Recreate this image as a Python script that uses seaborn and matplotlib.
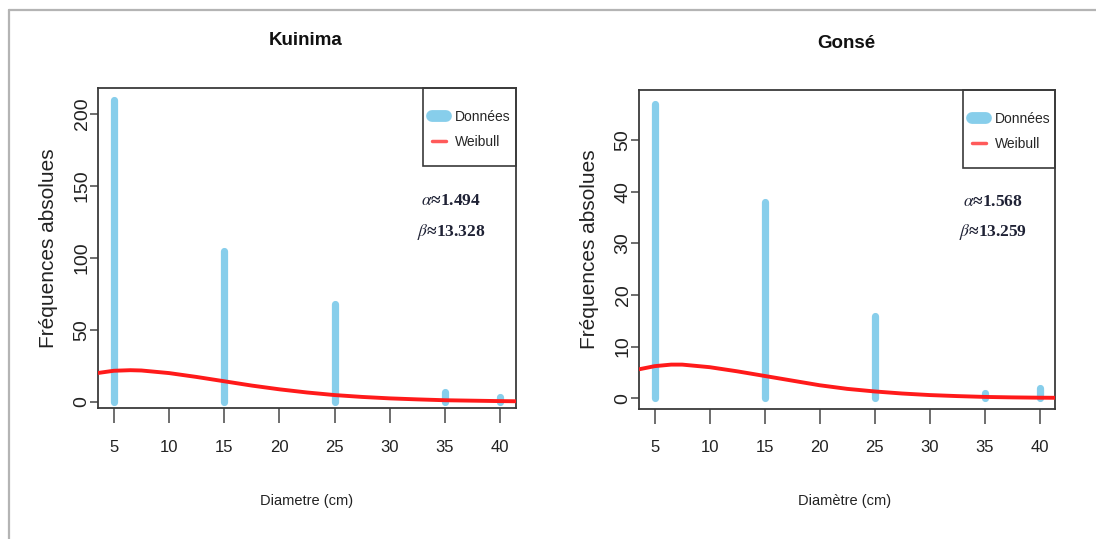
import matplotlib
matplotlib.use("Agg")
import matplotlib.pyplot as plt
from matplotlib import font_manager
from matplotlib.lines import Line2D
from matplotlib.patches import Rectangle
import pandas as pd
import seaborn as sns

# values
diam = [5, 15, 25, 35, 40]
kuinima_freq = [210, 105, 68, 7, 3]
gonse_freq = [57, 38, 16, 1, 2]

curve_x = [3.6, 5, 6.5, 7.5, 10, 12.5, 15, 17.5, 20, 22.5, 25, 27.5,
           30, 32.5, 35, 37.5, 40, 41.4]
kuinima_weibull = [20.0, 21.5, 21.9, 21.7, 19.9, 17.2, 14.2, 11.2, 8.6, 6.4,
                   4.6, 3.3, 2.3, 1.6, 1.0, 0.7, 0.4, 0.3]
gonse_weibull = [5.6, 6.2, 6.5, 6.5, 6.0, 5.2, 4.3, 3.4, 2.5, 1.8,
                 1.3, 0.9, 0.6, 0.4, 0.24, 0.15, 0.09, 0.07]

x_ticks = [5, 10, 15, 20, 25, 30, 35, 40]
kuinima_yticks = [0, 50, 100, 150, 200]
gonse_yticks = [0, 10, 20, 30, 40, 50]

sns.set_style("ticks")
names = {f.name for f in font_manager.fontManager.ttflist}
narrow = "Liberation Sans Narrow" if "Liberation Sans Narrow" in names else "Liberation Sans"
plt.rcParams["font.family"] = ["Liberation Sans", "DejaVu Sans"]
plt.rcParams["mathtext.fontset"] = "stix"

BLUE = "#87ceeb"
RED = "#ff1a1a"
INK = "#222222"

panels = [
    dict(title="Kuinima", xlabel="Diametre (cm)", freq=kuinima_freq,
         curve=kuinima_weibull, yticks=kuinima_yticks, ylim=(-4.6, 218),
         alpha="1.494", beta="13.328",
         pos=[0.0897, 0.2425, 0.3808, 0.5937],
         title_xy=(0.279, 0.9165), xlabel_xy=(0.2798, 0.0711), ylabel_xy=(0.0447, 0.540),
         ab_xy=(0.8445, 0.648, 0.55)),
    dict(title="Gonsé", xlabel="Diamètre (cm)", freq=gonse_freq,
         curve=gonse_weibull, yticks=gonse_yticks, ylim=(-2.1, 59.7),
         alpha="1.568", beta="13.259",
         pos=[0.5833, 0.2412, 0.3793, 0.5918],
         title_xy=(0.7725, 0.911), xlabel_xy=(0.771, 0.0711), ylabel_xy=(0.5383, 0.537),
         ab_xy=(0.8497, 0.65, 0.554)),
]

fig = plt.figure(figsize=(10.96, 5.39), dpi=100)
fig.patch.set_facecolor("white")

# light grey frame around the picture
fig.add_artist(Line2D([0.008, 1.0], [0.9814, 0.9814], transform=fig.transFigure,
                      color="#b4b4b4", lw=1.6))
fig.add_artist(Line2D([0.008, 0.008], [0.0, 0.9814], transform=fig.transFigure,
                      color="#b4b4b4", lw=1.6))

for p in panels:
    ax = fig.add_axes(p["pos"])
    df = pd.DataFrame({"x": curve_x, "y": p["curve"]})

    bars = ax.vlines(diam, 0, p["freq"], colors=BLUE, linewidth=5.2, zorder=2)
    bars.set_capstyle("round")
    sns.lineplot(data=df, x="x", y="y", ax=ax, color=RED, linewidth=2.8,
                 zorder=3, legend=False)

    ax.set_xlim(3.6, 41.4)
    ax.set_ylim(*p["ylim"])
    ax.set_xticks(x_ticks)
    ax.set_yticks(p["yticks"])
    ax.set_xlabel("")
    ax.set_ylabel("")
    for s in ax.spines.values():
        s.set_visible(True)
        s.set_color("#3a3a3a")
        s.set_linewidth(1.3)
    ax.tick_params(axis="x", length=10.5, width=1.2, color="#555555", pad=12,
                   labelsize=12, labelcolor=INK)
    ax.tick_params(axis="y", length=5.5, width=1.2, color="#555555", pad=0,
                   labelsize=14, labelcolor=INK, labelrotation=90)
    for lab in ax.get_xticklabels():
        lab.set_family([narrow, "DejaVu Sans"])
    for lab in ax.get_yticklabels():
        lab.set_va("center")

    # legend box
    ax.add_patch(Rectangle((0.778, 0.757), 0.222, 0.243, transform=ax.transAxes,
                           fill=False, edgecolor="#3a3a3a", lw=1.2, zorder=4,
                           clip_on=False))
    handles = [Line2D([], [], color=BLUE, lw=8.5, solid_capstyle="round"),
               Line2D([], [], color="#ff5a5a", lw=2.5)]
    ax.legend(handles, ["Données", "Weibull"], loc="center",
              bbox_to_anchor=(0.894, 0.871), frameon=False, borderpad=0,
              handlelength=1.0, handletextpad=0.65, labelspacing=0.8,
              prop=dict(family=[narrow, "DejaVu Sans"], size=10))

    ax.text(p["ab_xy"][0], p["ab_xy"][1], r"$\alpha$≈" + p["alpha"], transform=ax.transAxes,
            ha="center", va="center", fontsize=12.5, fontweight="bold",
            family=["Liberation Serif", "DejaVu Serif"], color="#1f2235")
    ax.text(p["ab_xy"][0], p["ab_xy"][2], r"$\beta$≈" + p["beta"], transform=ax.transAxes,
            ha="center", va="center", fontsize=12.5, fontweight="bold",
            family=["Liberation Serif", "DejaVu Serif"], color="#1f2235")

    fig.text(*p["title_xy"], p["title"], ha="center", va="baseline", fontsize=13.5,
             fontweight="bold", family=[narrow, "DejaVu Sans"], color="#111111")
    fig.text(*p["xlabel_xy"], p["xlabel"], ha="center", va="center", fontsize=10.5,
             family=[narrow, "DejaVu Sans"], color=INK)
    fig.text(*p["ylabel_xy"], "Fréquences absolues", ha="center", va="center",
             rotation=90, fontsize=15, color=INK)

fig.savefig("out.png", dpi=100)
